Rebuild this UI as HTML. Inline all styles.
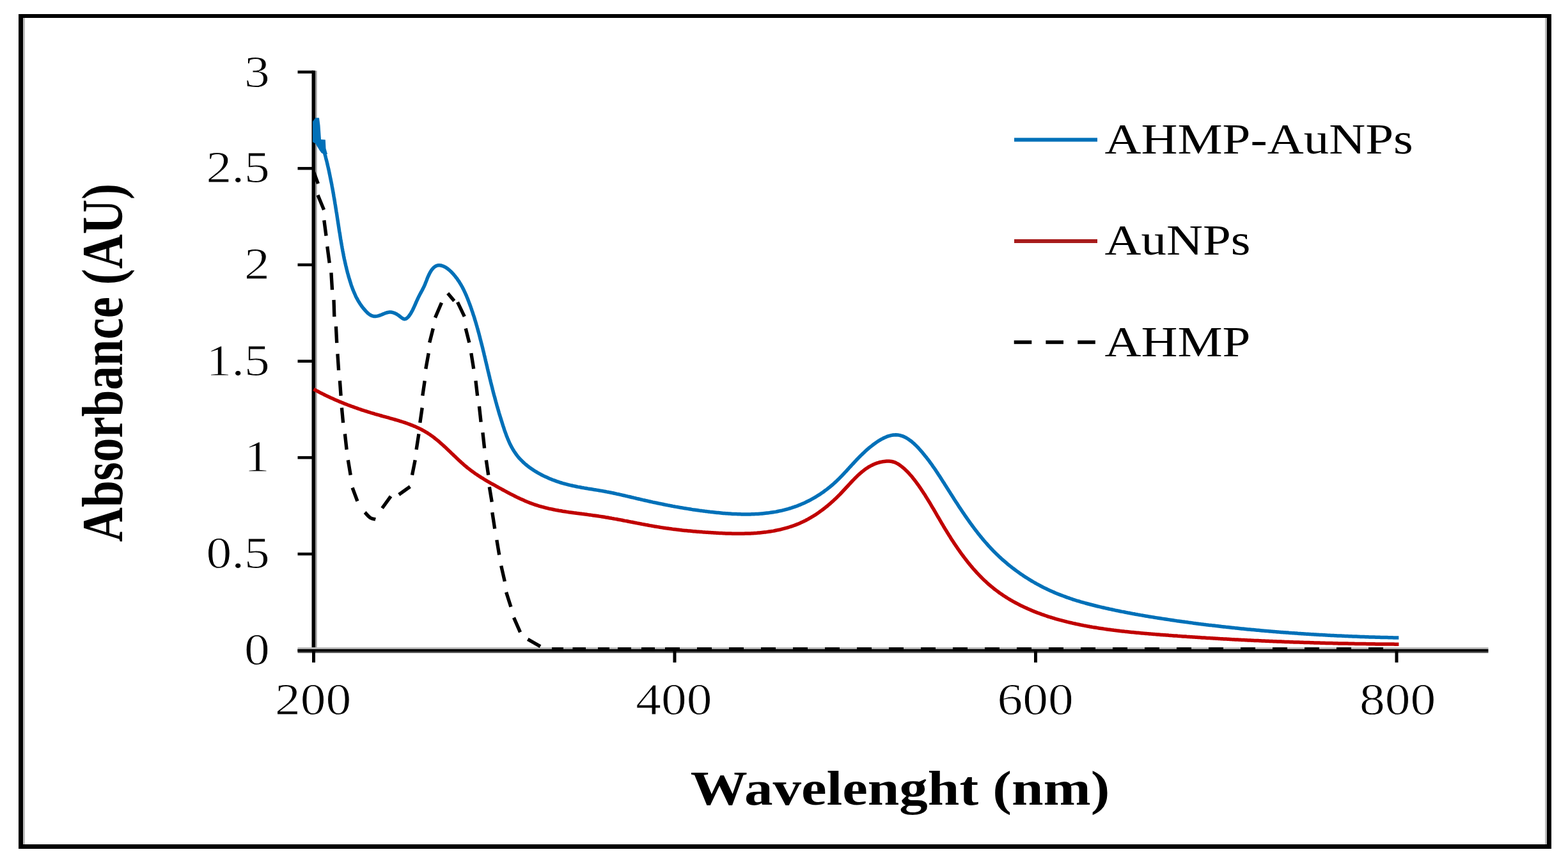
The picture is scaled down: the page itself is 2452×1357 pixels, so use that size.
<!DOCTYPE html>
<html><head><meta charset="utf-8"><title>Absorbance spectra</title>
<style>html,body{margin:0;padding:0;background:#fff;overflow:hidden;}svg{display:block;}</style>
</head><body>
<svg width="2452" height="1357" viewBox="0 0 2452 1357">
<rect x="0" y="0" width="2452" height="1357" fill="#fff"/>
<rect x="29" y="22" width="2397" height="1305" fill="#000"/>
<rect x="36" y="28" width="2383" height="1292" fill="#fff"/>
<rect x="36" y="28" width="3" height="1292" fill="#bdbdbd"/>
<rect x="2416" y="28" width="3" height="1292" fill="#bdbdbd"/>
<g shape-rendering="auto">
<rect x="493.00" y="110.60" width="2.6" height="908.20" fill="#9a9a9a"/>
<rect x="487.50" y="110.35" width="5.5" height="908.70" fill="#000"/>
<rect x="465.50" y="1014.55" width="24.75" height="4.5" fill="#000"/>
<rect x="465.50" y="863.85" width="24.75" height="4.5" fill="#000"/>
<rect x="465.50" y="713.15" width="24.75" height="4.5" fill="#000"/>
<rect x="465.50" y="562.45" width="24.75" height="4.5" fill="#000"/>
<rect x="465.50" y="411.75" width="24.75" height="4.5" fill="#000"/>
<rect x="465.50" y="261.05" width="24.75" height="4.5" fill="#000"/>
<rect x="465.50" y="110.35" width="24.75" height="4.5" fill="#000"/>
<rect x="465.50" y="1012.00" width="1861.90" height="3" fill="#bdbdbd"/>
<rect x="465.50" y="1018.50" width="1861.90" height="2.4" fill="#555"/>
<rect x="465.50" y="1014.80" width="1861.90" height="4" fill="#000"/>
<rect x="488.00" y="1016.80" width="5" height="18.90" fill="#000"/>
<rect x="1052.50" y="1016.80" width="5" height="18.90" fill="#000"/>
<rect x="1617.00" y="1016.80" width="5" height="18.90" fill="#000"/>
<rect x="2181.50" y="1016.80" width="5" height="18.90" fill="#000"/>
</g>
<path d="M490.5,608.3 L492.3,609.3 L494.1,610.3 L495.9,611.3 L497.7,612.2 L499.4,613.2 L501.2,614.1 L503.0,615.0 L504.8,615.9 L506.6,616.8 L508.4,617.7 L510.2,618.6 L512.0,619.4 L513.8,620.3 L515.7,621.1 L517.5,622.0 L519.3,622.8 L521.1,623.6 L522.9,624.4 L524.8,625.2 L526.6,626.0 L528.4,626.8 L530.2,627.6 L532.1,628.3 L533.9,629.1 L535.8,629.8 L537.6,630.6 L539.5,631.3 L541.3,632.0 L543.2,632.8 L545.0,633.5 L546.9,634.2 L548.8,634.9 L550.6,635.5 L552.5,636.2 L554.4,636.9 L556.2,637.5 L558.1,638.2 L560.0,638.9 L561.9,639.5 L563.8,640.1 L565.7,640.8 L567.5,641.4 L569.4,642.0 L571.3,642.6 L573.2,643.2 L575.2,643.8 L577.1,644.4 L579.0,645.0 L580.9,645.6 L582.8,646.1 L584.7,646.7 L586.7,647.3 L588.6,647.8 L590.5,648.4 L592.5,648.9 L594.4,649.5 L596.3,650.0 L598.3,650.6 L600.2,651.1 L602.2,651.6 L604.1,652.2 L606.0,652.7 L608.0,653.2 L609.9,653.8 L611.9,654.3 L613.8,654.9 L615.7,655.4 L617.7,656.0 L619.6,656.5 L621.5,657.1 L623.5,657.7 L625.4,658.3 L627.3,658.9 L629.2,659.5 L631.1,660.1 L633.0,660.7 L634.9,661.4 L636.8,662.0 L638.6,662.7 L640.5,663.4 L642.3,664.1 L644.2,664.8 L646.0,665.6 L647.9,666.3 L649.7,667.1 L651.5,667.9 L653.3,668.7 L655.0,669.5 L656.8,670.4 L658.6,671.3 L660.3,672.2 L662.0,673.1 L663.7,674.1 L665.4,675.1 L667.1,676.1 L668.8,677.1 L670.4,678.2 L672.1,679.3 L673.7,680.4 L675.3,681.6 L676.9,682.7 L678.5,683.9 L680.0,685.2 L681.6,686.4 L683.1,687.6 L684.7,688.9 L686.2,690.2 L687.7,691.5 L689.2,692.8 L690.8,694.2 L692.3,695.5 L693.7,696.9 L695.2,698.2 L696.7,699.6 L698.2,701.0 L699.7,702.4 L701.1,703.8 L702.6,705.2 L704.1,706.6 L705.5,708.0 L707.0,709.4 L708.5,710.8 L709.9,712.2 L711.4,713.6 L712.9,715.0 L714.4,716.4 L715.8,717.8 L717.3,719.2 L718.8,720.6 L720.3,721.9 L721.8,723.3 L723.3,724.6 L724.8,726.0 L726.3,727.3 L727.9,728.6 L729.4,729.9 L730.9,731.2 L732.5,732.4 L734.1,733.6 L735.7,734.9 L737.3,736.1 L738.9,737.2 L740.5,738.4 L742.1,739.6 L743.7,740.7 L745.4,741.8 L747.0,742.9 L748.7,744.0 L750.4,745.1 L752.0,746.1 L753.7,747.2 L755.4,748.2 L757.1,749.3 L758.8,750.3 L760.5,751.3 L762.2,752.3 L764.0,753.3 L765.7,754.3 L767.4,755.3 L769.2,756.3 L770.9,757.2 L772.6,758.2 L774.4,759.2 L776.1,760.2 L777.9,761.1 L779.6,762.1 L781.4,763.1 L783.2,764.0 L784.9,765.0 L786.7,766.0 L788.4,766.9 L790.2,767.9 L792.0,768.8 L793.8,769.8 L795.5,770.7 L797.3,771.7 L799.1,772.6 L800.9,773.5 L802.7,774.4 L804.4,775.3 L806.2,776.2 L808.0,777.1 L809.8,778.0 L811.6,778.8 L813.5,779.7 L815.3,780.5 L817.1,781.3 L818.9,782.1 L820.7,782.9 L822.6,783.7 L824.4,784.5 L826.2,785.2 L828.1,785.9 L829.9,786.7 L831.8,787.3 L833.7,788.0 L835.5,788.7 L837.4,789.3 L839.3,789.9 L841.2,790.5 L843.0,791.1 L844.9,791.6 L846.8,792.2 L848.7,792.7 L850.6,793.2 L852.5,793.7 L854.5,794.1 L856.4,794.6 L858.3,795.1 L860.2,795.5 L862.2,795.9 L864.1,796.3 L866.0,796.7 L868.0,797.1 L869.9,797.5 L871.9,797.8 L873.8,798.2 L875.8,798.5 L877.7,798.8 L879.7,799.2 L881.6,799.5 L883.6,799.8 L885.6,800.1 L887.5,800.4 L889.5,800.7 L891.5,800.9 L893.4,801.2 L895.4,801.5 L897.4,801.8 L899.4,802.0 L901.4,802.3 L903.3,802.6 L905.3,802.8 L907.3,803.1 L909.3,803.3 L911.3,803.6 L913.3,803.8 L915.3,804.1 L917.2,804.3 L919.2,804.6 L921.2,804.9 L923.2,805.1 L925.2,805.4 L927.2,805.7 L929.2,805.9 L931.2,806.2 L933.2,806.5 L935.1,806.8 L937.1,807.1 L939.1,807.4 L941.1,807.7 L943.1,808.0 L945.1,808.3 L947.1,808.7 L949.0,809.0 L951.0,809.3 L953.0,809.7 L955.0,810.0 L957.0,810.4 L958.9,810.7 L960.9,811.1 L962.9,811.4 L964.9,811.8 L966.9,812.2 L968.8,812.5 L970.8,812.9 L972.8,813.3 L974.8,813.7 L976.7,814.1 L978.7,814.4 L980.7,814.8 L982.6,815.2 L984.6,815.6 L986.6,816.0 L988.6,816.3 L990.5,816.7 L992.5,817.1 L994.5,817.5 L996.4,817.9 L998.4,818.2 L1000.4,818.6 L1002.3,819.0 L1004.3,819.4 L1006.3,819.7 L1008.2,820.1 L1010.2,820.5 L1012.2,820.8 L1014.1,821.2 L1016.1,821.6 L1018.0,821.9 L1020.0,822.3 L1022.0,822.6 L1023.9,823.0 L1025.9,823.3 L1027.8,823.6 L1029.8,823.9 L1031.8,824.3 L1033.7,824.6 L1035.7,824.9 L1037.6,825.2 L1039.6,825.5 L1041.6,825.8 L1043.5,826.0 L1045.5,826.3 L1047.4,826.6 L1049.4,826.8 L1051.3,827.1 L1053.3,827.4 L1055.2,827.6 L1057.2,827.8 L1059.2,828.1 L1061.1,828.3 L1063.1,828.5 L1065.0,828.7 L1067.0,829.0 L1069.0,829.2 L1070.9,829.4 L1072.9,829.6 L1074.9,829.8 L1076.8,830.0 L1078.8,830.1 L1080.8,830.3 L1082.8,830.5 L1084.7,830.7 L1086.7,830.8 L1088.7,831.0 L1090.7,831.2 L1092.6,831.3 L1094.6,831.5 L1096.6,831.6 L1098.6,831.8 L1100.6,831.9 L1102.6,832.1 L1104.6,832.2 L1106.6,832.3 L1108.6,832.5 L1110.6,832.6 L1112.6,832.7 L1114.6,832.8 L1116.6,833.0 L1118.7,833.1 L1120.7,833.2 L1122.7,833.3 L1124.7,833.4 L1126.8,833.5 L1128.8,833.6 L1130.8,833.7 L1132.9,833.8 L1134.9,833.9 L1136.9,833.9 L1139.0,834.0 L1141.0,834.1 L1143.0,834.1 L1145.1,834.2 L1147.1,834.2 L1149.1,834.2 L1151.2,834.2 L1153.2,834.3 L1155.2,834.3 L1157.3,834.3 L1159.3,834.2 L1161.4,834.2 L1163.4,834.2 L1165.4,834.1 L1167.4,834.1 L1169.5,834.0 L1171.5,834.0 L1173.5,833.9 L1175.5,833.8 L1177.6,833.7 L1179.6,833.5 L1181.6,833.4 L1183.6,833.3 L1185.6,833.1 L1187.6,832.9 L1189.6,832.7 L1191.6,832.5 L1193.6,832.3 L1195.6,832.1 L1197.6,831.9 L1199.6,831.6 L1201.5,831.3 L1203.5,831.0 L1205.5,830.7 L1207.4,830.4 L1209.4,830.1 L1211.4,829.7 L1213.3,829.3 L1215.2,828.9 L1217.2,828.5 L1219.1,828.1 L1221.0,827.7 L1222.9,827.2 L1224.9,826.7 L1226.8,826.2 L1228.7,825.7 L1230.5,825.2 L1232.4,824.6 L1234.3,824.0 L1236.2,823.4 L1238.0,822.8 L1239.9,822.2 L1241.7,821.5 L1243.6,820.8 L1245.4,820.1 L1247.2,819.4 L1249.0,818.7 L1250.8,817.9 L1252.6,817.1 L1254.4,816.3 L1256.2,815.4 L1257.9,814.6 L1259.7,813.7 L1261.4,812.8 L1263.2,811.9 L1264.9,810.9 L1266.6,809.9 L1268.3,808.9 L1270.0,807.9 L1271.7,806.9 L1273.4,805.8 L1275.1,804.8 L1276.7,803.7 L1278.4,802.6 L1280.0,801.4 L1281.6,800.3 L1283.3,799.1 L1284.9,797.9 L1286.5,796.7 L1288.1,795.5 L1289.7,794.3 L1291.2,793.0 L1292.8,791.8 L1294.4,790.5 L1295.9,789.2 L1297.5,787.9 L1299.0,786.5 L1300.5,785.2 L1302.0,783.8 L1303.5,782.5 L1305.0,781.1 L1306.5,779.7 L1308.0,778.3 L1309.4,776.8 L1310.9,775.4 L1312.3,773.9 L1313.8,772.5 L1315.2,771.0 L1316.6,769.5 L1318.0,768.0 L1319.4,766.5 L1320.8,765.0 L1322.2,763.5 L1323.6,762.0 L1325.0,760.5 L1326.4,759.0 L1327.8,757.5 L1329.1,756.0 L1330.5,754.5 L1331.9,753.0 L1333.3,751.5 L1334.7,750.1 L1336.1,748.6 L1337.5,747.2 L1339.0,745.8 L1340.4,744.4 L1341.8,743.0 L1343.3,741.7 L1344.8,740.4 L1346.2,739.1 L1347.7,737.8 L1349.3,736.6 L1350.8,735.4 L1352.3,734.2 L1353.9,733.1 L1355.5,732.0 L1357.1,730.9 L1358.7,729.9 L1360.4,729.0 L1362.1,728.0 L1363.8,727.2 L1365.5,726.3 L1367.3,725.6 L1369.1,724.8 L1370.9,724.2 L1372.7,723.6 L1374.6,723.0 L1376.5,722.5 L1378.5,722.1 L1380.5,721.7 L1382.5,721.4 L1384.5,721.2 L1386.5,721.0 L1388.6,721.0 L1390.6,721.1 L1392.6,721.2 L1394.6,721.5 L1396.5,722.0 L1398.4,722.5 L1400.3,723.2 L1402.0,724.1 L1403.8,725.0 L1405.5,726.1 L1407.1,727.2 L1408.7,728.4 L1410.3,729.6 L1411.8,730.9 L1413.4,732.2 L1414.9,733.5 L1416.3,734.9 L1417.8,736.3 L1419.2,737.7 L1420.6,739.2 L1422.0,740.7 L1423.3,742.2 L1424.6,743.7 L1426.0,745.2 L1427.2,746.8 L1428.5,748.4 L1429.8,750.0 L1431.0,751.6 L1432.2,753.2 L1433.4,754.8 L1434.6,756.5 L1435.8,758.1 L1437.0,759.7 L1438.1,761.4 L1439.3,763.1 L1440.4,764.7 L1441.5,766.4 L1442.6,768.1 L1443.7,769.7 L1444.8,771.4 L1445.9,773.1 L1447.0,774.8 L1448.0,776.5 L1449.1,778.2 L1450.1,779.9 L1451.2,781.6 L1452.2,783.3 L1453.3,785.0 L1454.3,786.7 L1455.3,788.4 L1456.3,790.1 L1457.3,791.8 L1458.3,793.5 L1459.4,795.2 L1460.4,797.0 L1461.4,798.7 L1462.4,800.4 L1463.4,802.1 L1464.4,803.8 L1465.4,805.6 L1466.4,807.3 L1467.4,809.0 L1468.4,810.7 L1469.4,812.4 L1470.4,814.2 L1471.4,815.9 L1472.4,817.6 L1473.4,819.3 L1474.5,821.0 L1475.5,822.8 L1476.5,824.5 L1477.5,826.2 L1478.6,827.9 L1479.6,829.6 L1480.7,831.3 L1481.7,833.0 L1482.8,834.7 L1483.8,836.4 L1484.9,838.1 L1486.0,839.8 L1487.0,841.5 L1488.1,843.2 L1489.2,844.9 L1490.3,846.5 L1491.4,848.2 L1492.5,849.9 L1493.6,851.5 L1494.7,853.2 L1495.9,854.9 L1497.0,856.5 L1498.1,858.2 L1499.3,859.8 L1500.4,861.4 L1501.6,863.1 L1502.7,864.7 L1503.9,866.3 L1505.1,867.9 L1506.3,869.5 L1507.5,871.1 L1508.7,872.7 L1509.9,874.3 L1511.1,875.8 L1512.4,877.4 L1513.6,879.0 L1514.8,880.5 L1516.1,882.1 L1517.4,883.6 L1518.6,885.1 L1519.9,886.6 L1521.2,888.2 L1522.5,889.7 L1523.8,891.1 L1525.2,892.6 L1526.5,894.1 L1527.8,895.6 L1529.2,897.0 L1530.5,898.4 L1531.9,899.9 L1533.3,901.3 L1534.7,902.7 L1536.1,904.1 L1537.5,905.5 L1539.0,906.9 L1540.4,908.2 L1541.9,909.6 L1543.3,910.9 L1544.8,912.3 L1546.3,913.6 L1547.8,914.9 L1549.3,916.2 L1550.8,917.4 L1552.4,918.7 L1553.9,920.0 L1555.5,921.2 L1557.1,922.4 L1558.7,923.6 L1560.3,924.8 L1561.9,926.0 L1563.5,927.2 L1565.2,928.3 L1566.9,929.5 L1568.5,930.6 L1570.2,931.7 L1571.9,932.8 L1573.6,933.9 L1575.3,935.0 L1577.0,936.0 L1578.8,937.1 L1580.5,938.1 L1582.3,939.1 L1584.0,940.1 L1585.8,941.1 L1587.5,942.0 L1589.3,943.0 L1591.1,943.9 L1592.9,944.9 L1594.6,945.8 L1596.4,946.7 L1598.2,947.5 L1600.0,948.4 L1601.8,949.3 L1603.6,950.1 L1605.5,950.9 L1607.3,951.7 L1609.1,952.5 L1610.9,953.3 L1612.8,954.1 L1614.6,954.9 L1616.4,955.6 L1618.3,956.4 L1620.1,957.1 L1622.0,957.8 L1623.8,958.5 L1625.7,959.2 L1627.6,959.9 L1629.4,960.6 L1631.3,961.2 L1633.2,961.9 L1635.1,962.5 L1636.9,963.1 L1638.8,963.8 L1640.7,964.4 L1642.6,965.0 L1644.5,965.5 L1646.4,966.1 L1648.3,966.7 L1650.2,967.3 L1652.1,967.8 L1654.0,968.3 L1655.9,968.9 L1657.8,969.4 L1659.8,969.9 L1661.7,970.4 L1663.6,970.9 L1665.5,971.4 L1667.4,971.9 L1669.4,972.4 L1671.3,972.8 L1673.2,973.3 L1675.2,973.7 L1677.1,974.2 L1679.0,974.6 L1681.0,975.0 L1682.9,975.5 L1684.9,975.9 L1686.8,976.3 L1688.8,976.7 L1690.7,977.1 L1692.7,977.5 L1694.6,977.9 L1696.6,978.2 L1698.5,978.6 L1700.5,979.0 L1702.4,979.3 L1704.4,979.7 L1706.4,980.0 L1708.3,980.4 L1710.3,980.7 L1712.3,981.0 L1714.2,981.3 L1716.2,981.6 L1718.2,982.0 L1720.1,982.3 L1722.1,982.6 L1724.1,982.8 L1726.1,983.1 L1728.0,983.4 L1730.0,983.7 L1732.0,984.0 L1734.0,984.2 L1736.0,984.5 L1738.0,984.8 L1739.9,985.0 L1741.9,985.3 L1743.9,985.5 L1745.9,985.8 L1747.9,986.0 L1749.9,986.2 L1751.9,986.5 L1753.9,986.7 L1755.8,986.9 L1757.8,987.1 L1759.8,987.4 L1761.8,987.6 L1763.8,987.8 L1765.8,988.0 L1767.8,988.2 L1769.8,988.4 L1771.8,988.6 L1773.8,988.8 L1775.8,989.0 L1777.8,989.2 L1779.8,989.3 L1781.8,989.5 L1783.8,989.7 L1785.8,989.9 L1787.8,990.1 L1789.8,990.2 L1791.8,990.4 L1793.8,990.6 L1795.8,990.7 L1797.8,990.9 L1799.8,991.1 L1801.8,991.2 L1803.8,991.4 L1805.8,991.6 L1807.8,991.7 L1809.8,991.9 L1811.8,992.0 L1813.8,992.2 L1815.8,992.4 L1817.8,992.5 L1819.8,992.7 L1821.8,992.8 L1823.8,993.0 L1825.8,993.1 L1827.8,993.3 L1829.8,993.4 L1831.8,993.6 L1833.8,993.7 L1835.8,993.9 L1837.8,994.0 L1839.8,994.1 L1841.8,994.3 L1843.8,994.4 L1845.8,994.6 L1847.8,994.7 L1849.8,994.9 L1851.8,995.0 L1853.8,995.1 L1855.8,995.3 L1857.7,995.4 L1859.7,995.5 L1861.7,995.7 L1863.7,995.8 L1865.7,996.0 L1867.7,996.1 L1869.7,996.2 L1871.7,996.3 L1873.7,996.5 L1875.7,996.6 L1877.7,996.7 L1879.7,996.9 L1881.7,997.0 L1883.7,997.1 L1885.7,997.2 L1887.7,997.4 L1889.7,997.5 L1891.7,997.6 L1893.7,997.7 L1895.7,997.8 L1897.7,998.0 L1899.7,998.1 L1901.7,998.2 L1903.7,998.3 L1905.7,998.4 L1907.6,998.6 L1909.6,998.7 L1911.6,998.8 L1913.6,998.9 L1915.6,999.0 L1917.6,999.1 L1919.6,999.2 L1921.6,999.3 L1923.6,999.4 L1925.6,999.6 L1927.6,999.7 L1929.6,999.8 L1931.6,999.9 L1933.6,1000.0 L1935.6,1000.1 L1937.6,1000.2 L1939.6,1000.3 L1941.6,1000.4 L1943.6,1000.5 L1945.5,1000.6 L1947.5,1000.7 L1949.5,1000.8 L1951.5,1000.9 L1953.5,1001.0 L1955.5,1001.1 L1957.5,1001.2 L1959.5,1001.3 L1961.5,1001.4 L1963.5,1001.5 L1965.5,1001.5 L1967.5,1001.6 L1969.5,1001.7 L1971.5,1001.8 L1973.5,1001.9 L1975.5,1002.0 L1977.5,1002.1 L1979.5,1002.2 L1981.4,1002.2 L1983.4,1002.3 L1985.4,1002.4 L1987.4,1002.5 L1989.4,1002.6 L1991.4,1002.7 L1993.4,1002.7 L1995.4,1002.8 L1997.4,1002.9 L1999.4,1003.0 L2001.4,1003.1 L2003.4,1003.1 L2005.4,1003.2 L2007.4,1003.3 L2009.4,1003.4 L2011.4,1003.4 L2013.4,1003.5 L2015.4,1003.6 L2017.4,1003.7 L2019.4,1003.7 L2021.3,1003.8 L2023.3,1003.9 L2025.3,1003.9 L2027.3,1004.0 L2029.3,1004.1 L2031.3,1004.1 L2033.3,1004.2 L2035.3,1004.3 L2037.3,1004.3 L2039.3,1004.4 L2041.3,1004.5 L2043.3,1004.5 L2045.3,1004.6 L2047.3,1004.6 L2049.3,1004.7 L2051.3,1004.8 L2053.3,1004.8 L2055.3,1004.9 L2057.3,1004.9 L2059.3,1005.0 L2061.3,1005.1 L2063.3,1005.1 L2065.3,1005.2 L2067.3,1005.2 L2069.3,1005.3 L2071.3,1005.3 L2073.3,1005.4 L2075.3,1005.4 L2077.3,1005.5 L2079.3,1005.5 L2081.2,1005.6 L2083.2,1005.6 L2085.2,1005.7 L2087.2,1005.7 L2089.2,1005.8 L2091.2,1005.8 L2093.2,1005.9 L2095.2,1005.9 L2097.2,1005.9 L2099.2,1006.0 L2101.2,1006.0 L2103.2,1006.1 L2105.2,1006.1 L2107.2,1006.1 L2109.2,1006.2 L2111.2,1006.2 L2113.2,1006.3 L2115.2,1006.3 L2117.2,1006.3 L2119.2,1006.4 L2121.2,1006.4 L2123.2,1006.4 L2125.2,1006.5 L2127.2,1006.5 L2129.3,1006.5 L2131.3,1006.6 L2133.3,1006.6 L2135.3,1006.6 L2137.3,1006.7 L2139.3,1006.7 L2141.3,1006.7 L2143.3,1006.8 L2145.3,1006.8 L2147.3,1006.8 L2149.3,1006.8 L2151.3,1006.9 L2153.3,1006.9 L2155.3,1006.9 L2157.3,1006.9 L2159.3,1007.0 L2161.3,1007.0 L2163.3,1007.0 L2165.3,1007.0 L2167.3,1007.0 L2169.3,1007.1 L2171.3,1007.1 L2173.3,1007.1 L2175.3,1007.1 L2177.4,1007.1 L2179.4,1007.1 L2181.4,1007.2 L2183.4,1007.2 L2185.4,1007.2 L2187.4,1007.2" fill="none" stroke="#c00000" stroke-width="5.5" stroke-linejoin="round" stroke-linecap="butt"/>
<path d="M505.8,232.9 L506.4,234.8 L506.9,236.7 L507.4,238.7 L507.9,240.6 L508.4,242.5 L509.0,244.4 L509.4,246.3 L509.9,248.3 L510.4,250.2 L510.9,252.1 L511.4,254.1 L511.8,256.0 L512.3,258.0 L512.7,259.9 L513.2,261.8 L513.6,263.8 L514.1,265.7 L514.5,267.7 L514.9,269.6 L515.3,271.6 L515.7,273.5 L516.1,275.5 L516.5,277.5 L516.9,279.4 L517.3,281.4 L517.7,283.4 L518.1,285.3 L518.5,287.3 L518.9,289.2 L519.2,291.2 L519.6,293.2 L520.0,295.2 L520.3,297.1 L520.7,299.1 L521.0,301.1 L521.4,303.0 L521.7,305.0 L522.0,307.0 L522.4,309.0 L522.7,310.9 L523.1,312.9 L523.4,314.9 L523.7,316.9 L524.0,318.8 L524.4,320.8 L524.7,322.8 L525.0,324.8 L525.3,326.7 L525.6,328.7 L525.9,330.7 L526.3,332.7 L526.6,334.7 L526.9,336.6 L527.2,338.6 L527.5,340.6 L527.8,342.6 L528.1,344.5 L528.4,346.5 L528.7,348.5 L529.0,350.4 L529.3,352.4 L529.6,354.4 L529.9,356.3 L530.2,358.3 L530.5,360.3 L530.8,362.2 L531.2,364.2 L531.5,366.2 L531.8,368.1 L532.1,370.1 L532.4,372.1 L532.7,374.0 L533.1,376.0 L533.4,378.0 L533.7,379.9 L534.1,381.9 L534.4,383.8 L534.8,385.8 L535.1,387.7 L535.5,389.7 L535.8,391.7 L536.2,393.6 L536.6,395.6 L537.0,397.5 L537.3,399.5 L537.7,401.4 L538.1,403.4 L538.5,405.3 L539.0,407.3 L539.4,409.2 L539.8,411.2 L540.3,413.1 L540.7,415.1 L541.2,417.0 L541.7,419.0 L542.1,420.9 L542.6,422.8 L543.1,424.8 L543.6,426.7 L544.2,428.7 L544.7,430.6 L545.2,432.6 L545.8,434.5 L546.4,436.4 L547.0,438.4 L547.6,440.3 L548.2,442.2 L548.8,444.2 L549.4,446.1 L550.1,448.0 L550.8,449.9 L551.5,451.8 L552.2,453.7 L553.0,455.5 L553.8,457.4 L554.6,459.2 L555.4,461.0 L556.2,462.9 L557.1,464.7 L558.0,466.4 L559.0,468.2 L559.9,469.9 L560.9,471.6 L562.0,473.3 L563.1,475.0 L564.2,476.6 L565.3,478.3 L566.5,479.8 L567.7,481.4 L569.0,482.9 L570.3,484.4 L571.6,485.9 L573.0,487.4 L574.4,488.8 L575.9,490.1 L577.4,491.3 L579.0,492.4 L580.7,493.3 L582.4,493.9 L584.2,494.4 L586.1,494.5 L588.1,494.4 L590.1,494.1 L592.1,493.6 L594.1,493.0 L596.1,492.2 L598.1,491.4 L600.2,490.5 L602.2,489.7 L604.2,489.0 L606.2,488.5 L608.2,488.1 L610.1,488.0 L612.1,488.1 L614.0,488.5 L615.9,489.1 L617.7,489.8 L619.5,490.7 L621.2,491.7 L622.9,492.8 L624.5,494.0 L626.0,495.2 L627.5,496.3 L628.9,497.4 L630.2,498.2 L631.5,498.7 L632.8,498.9 L634.2,498.6 L635.4,498.0 L636.7,497.0 L638.0,495.9 L639.2,494.5 L640.3,493.0 L641.4,491.4 L642.5,489.7 L643.5,487.9 L644.5,486.1 L645.5,484.2 L646.4,482.3 L647.3,480.4 L648.2,478.4 L649.1,476.5 L649.9,474.5 L650.8,472.5 L651.6,470.6 L652.5,468.7 L653.4,466.8 L654.2,465.0 L655.1,463.2 L656.0,461.5 L656.9,459.8 L657.8,458.1 L658.7,456.4 L659.6,454.8 L660.5,453.1 L661.4,451.4 L662.2,449.7 L663.1,447.9 L663.9,446.1 L664.7,444.3 L665.4,442.4 L666.2,440.5 L667.0,438.5 L667.7,436.6 L668.5,434.6 L669.3,432.6 L670.2,430.7 L671.1,428.8 L672.0,427.0 L673.0,425.2 L674.1,423.4 L675.2,421.8 L676.5,420.2 L677.8,418.8 L679.2,417.5 L680.7,416.5 L682.3,415.6 L684.0,415.0 L685.7,414.8 L687.5,414.8 L689.4,415.0 L691.2,415.5 L693.0,416.1 L694.8,416.9 L696.5,417.8 L698.2,418.9 L699.9,420.0 L701.5,421.3 L703.1,422.6 L704.6,424.1 L706.1,425.5 L707.6,427.1 L709.0,428.6 L710.3,430.2 L711.7,431.8 L712.9,433.4 L714.2,435.0 L715.4,436.7 L716.5,438.4 L717.7,440.0 L718.7,441.7 L719.8,443.4 L720.8,445.1 L721.8,446.9 L722.8,448.6 L723.7,450.4 L724.6,452.1 L725.5,453.9 L726.3,455.7 L727.2,457.5 L728.0,459.3 L728.8,461.1 L729.6,462.9 L730.3,464.7 L731.1,466.6 L731.8,468.4 L732.5,470.2 L733.2,472.1 L733.9,473.9 L734.6,475.8 L735.3,477.7 L736.0,479.5 L736.6,481.4 L737.3,483.3 L737.9,485.2 L738.6,487.1 L739.2,488.9 L739.8,490.8 L740.4,492.7 L741.1,494.6 L741.7,496.5 L742.2,498.4 L742.8,500.3 L743.4,502.2 L744.0,504.2 L744.6,506.1 L745.1,508.0 L745.7,509.9 L746.2,511.8 L746.8,513.8 L747.3,515.7 L747.8,517.6 L748.4,519.6 L748.9,521.5 L749.4,523.4 L749.9,525.4 L750.4,527.3 L750.9,529.3 L751.4,531.2 L751.9,533.1 L752.4,535.1 L752.9,537.0 L753.4,539.0 L753.9,540.9 L754.4,542.9 L754.9,544.8 L755.3,546.8 L755.8,548.7 L756.3,550.7 L756.8,552.6 L757.2,554.6 L757.7,556.5 L758.2,558.5 L758.6,560.4 L759.1,562.4 L759.5,564.4 L760.0,566.3 L760.5,568.3 L760.9,570.2 L761.4,572.2 L761.9,574.1 L762.3,576.1 L762.8,578.0 L763.2,579.9 L763.7,581.9 L764.2,583.8 L764.6,585.8 L765.1,587.7 L765.6,589.6 L766.0,591.6 L766.5,593.5 L767.0,595.5 L767.4,597.4 L767.9,599.3 L768.4,601.2 L768.9,603.2 L769.4,605.1 L769.9,607.0 L770.3,608.9 L770.8,610.8 L771.3,612.8 L771.8,614.7 L772.3,616.6 L772.8,618.5 L773.4,620.4 L773.9,622.3 L774.4,624.2 L774.9,626.1 L775.4,628.0 L776.0,630.0 L776.5,631.9 L777.0,633.8 L777.6,635.7 L778.1,637.6 L778.7,639.5 L779.2,641.4 L779.8,643.3 L780.3,645.2 L780.9,647.2 L781.5,649.1 L782.1,651.0 L782.7,652.9 L783.3,654.8 L783.8,656.7 L784.5,658.7 L785.1,660.6 L785.7,662.5 L786.3,664.5 L786.9,666.4 L787.6,668.3 L788.2,670.3 L788.8,672.2 L789.5,674.1 L790.2,676.0 L790.9,677.9 L791.6,679.9 L792.3,681.8 L793.1,683.6 L793.8,685.5 L794.6,687.4 L795.4,689.3 L796.2,691.1 L797.0,692.9 L797.9,694.7 L798.8,696.5 L799.7,698.3 L800.7,700.0 L801.7,701.8 L802.7,703.5 L803.7,705.2 L804.8,706.8 L805.9,708.4 L807.0,710.0 L808.2,711.6 L809.4,713.2 L810.7,714.7 L811.9,716.2 L813.3,717.6 L814.6,719.0 L816.0,720.4 L817.4,721.8 L818.8,723.2 L820.3,724.5 L821.8,725.8 L823.3,727.0 L824.9,728.3 L826.4,729.5 L828.0,730.7 L829.6,731.9 L831.3,733.0 L832.9,734.1 L834.6,735.2 L836.3,736.3 L838.0,737.3 L839.7,738.4 L841.4,739.4 L843.2,740.4 L845.0,741.3 L846.7,742.3 L848.5,743.2 L850.3,744.1 L852.2,745.0 L854.0,745.8 L855.8,746.6 L857.7,747.5 L859.5,748.3 L861.4,749.0 L863.2,749.8 L865.1,750.5 L867.0,751.2 L868.9,751.9 L870.8,752.6 L872.7,753.2 L874.6,753.8 L876.5,754.5 L878.4,755.0 L880.3,755.6 L882.3,756.1 L884.2,756.7 L886.1,757.2 L888.1,757.7 L890.0,758.1 L891.9,758.6 L893.9,759.0 L895.8,759.5 L897.7,759.9 L899.7,760.3 L901.6,760.7 L903.6,761.1 L905.5,761.4 L907.5,761.8 L909.4,762.2 L911.4,762.5 L913.4,762.9 L915.3,763.2 L917.3,763.5 L919.2,763.9 L921.2,764.2 L923.2,764.5 L925.1,764.8 L927.1,765.1 L929.0,765.5 L931.0,765.8 L933.0,766.1 L934.9,766.4 L936.9,766.8 L938.9,767.1 L940.8,767.4 L942.8,767.8 L944.8,768.1 L946.7,768.5 L948.7,768.9 L950.7,769.2 L952.6,769.6 L954.6,770.0 L956.5,770.4 L958.5,770.8 L960.5,771.2 L962.4,771.6 L964.4,772.1 L966.3,772.5 L968.3,772.9 L970.2,773.4 L972.2,773.8 L974.1,774.3 L976.1,774.7 L978.1,775.2 L980.0,775.6 L982.0,776.1 L983.9,776.5 L985.9,777.0 L987.8,777.5 L989.8,777.9 L991.7,778.4 L993.7,778.8 L995.6,779.3 L997.6,779.8 L999.5,780.2 L1001.5,780.7 L1003.4,781.1 L1005.4,781.6 L1007.3,782.0 L1009.3,782.5 L1011.2,782.9 L1013.2,783.3 L1015.1,783.8 L1017.0,784.2 L1019.0,784.6 L1020.9,785.1 L1022.9,785.5 L1024.8,785.9 L1026.8,786.3 L1028.7,786.7 L1030.7,787.1 L1032.6,787.5 L1034.6,787.9 L1036.5,788.3 L1038.5,788.7 L1040.4,789.1 L1042.4,789.5 L1044.3,789.9 L1046.3,790.2 L1048.2,790.6 L1050.2,791.0 L1052.1,791.4 L1054.1,791.7 L1056.1,792.1 L1058.0,792.4 L1060.0,792.8 L1061.9,793.1 L1063.9,793.5 L1065.8,793.8 L1067.8,794.1 L1069.8,794.5 L1071.7,794.8 L1073.7,795.1 L1075.7,795.4 L1077.6,795.7 L1079.6,796.0 L1081.6,796.4 L1083.5,796.7 L1085.5,796.9 L1087.5,797.2 L1089.5,797.5 L1091.4,797.8 L1093.4,798.1 L1095.4,798.4 L1097.4,798.6 L1099.4,798.9 L1101.3,799.1 L1103.3,799.4 L1105.3,799.6 L1107.3,799.9 L1109.3,800.1 L1111.3,800.4 L1113.3,800.6 L1115.3,800.8 L1117.3,801.0 L1119.3,801.2 L1121.3,801.4 L1123.3,801.6 L1125.3,801.8 L1127.3,802.0 L1129.3,802.2 L1131.3,802.4 L1133.3,802.5 L1135.3,802.7 L1137.3,802.8 L1139.4,803.0 L1141.4,803.1 L1143.4,803.2 L1145.4,803.4 L1147.4,803.5 L1149.4,803.6 L1151.4,803.6 L1153.4,803.7 L1155.4,803.8 L1157.5,803.8 L1159.5,803.9 L1161.5,803.9 L1163.5,803.9 L1165.5,803.9 L1167.5,803.9 L1169.5,803.9 L1171.5,803.9 L1173.5,803.9 L1175.5,803.8 L1177.5,803.7 L1179.5,803.7 L1181.5,803.6 L1183.5,803.5 L1185.5,803.4 L1187.5,803.2 L1189.5,803.1 L1191.5,802.9 L1193.4,802.7 L1195.4,802.5 L1197.4,802.3 L1199.4,802.1 L1201.3,801.9 L1203.3,801.6 L1205.3,801.3 L1207.2,801.0 L1209.2,800.7 L1211.2,800.4 L1213.1,800.1 L1215.1,799.7 L1217.0,799.3 L1218.9,798.9 L1220.9,798.5 L1222.8,798.1 L1224.7,797.6 L1226.7,797.1 L1228.6,796.6 L1230.5,796.1 L1232.4,795.6 L1234.3,795.0 L1236.2,794.5 L1238.1,793.9 L1240.0,793.2 L1241.9,792.6 L1243.8,791.9 L1245.7,791.3 L1247.5,790.6 L1249.4,789.8 L1251.2,789.1 L1253.1,788.3 L1254.9,787.5 L1256.8,786.7 L1258.6,785.9 L1260.4,785.0 L1262.3,784.1 L1264.1,783.2 L1265.9,782.3 L1267.7,781.3 L1269.4,780.4 L1271.2,779.4 L1273.0,778.4 L1274.7,777.4 L1276.5,776.3 L1278.2,775.2 L1279.9,774.2 L1281.6,773.1 L1283.3,772.0 L1285.0,770.8 L1286.7,769.7 L1288.3,768.5 L1289.9,767.3 L1291.6,766.1 L1293.2,764.9 L1294.7,763.7 L1296.3,762.4 L1297.9,761.2 L1299.4,759.9 L1300.9,758.6 L1302.4,757.3 L1303.9,756.0 L1305.4,754.7 L1306.8,753.3 L1308.3,752.0 L1309.7,750.6 L1311.1,749.3 L1312.5,747.9 L1313.8,746.5 L1315.2,745.1 L1316.6,743.7 L1317.9,742.3 L1319.3,740.9 L1320.6,739.4 L1321.9,738.0 L1323.3,736.6 L1324.6,735.1 L1325.9,733.7 L1327.2,732.3 L1328.5,730.8 L1329.9,729.4 L1331.2,727.9 L1332.5,726.5 L1333.9,725.0 L1335.2,723.6 L1336.5,722.1 L1337.9,720.7 L1339.2,719.2 L1340.6,717.8 L1342.0,716.4 L1343.4,714.9 L1344.8,713.5 L1346.2,712.1 L1347.7,710.7 L1349.1,709.3 L1350.6,707.9 L1352.1,706.5 L1353.6,705.1 L1355.1,703.7 L1356.6,702.4 L1358.2,701.0 L1359.8,699.7 L1361.4,698.4 L1363.1,697.1 L1364.7,695.8 L1366.4,694.5 L1368.2,693.2 L1369.9,692.0 L1371.7,690.8 L1373.4,689.6 L1375.2,688.5 L1377.1,687.4 L1378.9,686.4 L1380.7,685.5 L1382.5,684.5 L1384.4,683.7 L1386.2,682.9 L1388.1,682.2 L1389.9,681.6 L1391.8,681.1 L1393.6,680.6 L1395.5,680.3 L1397.3,680.0 L1399.1,679.9 L1401.0,679.8 L1402.8,679.9 L1404.6,680.1 L1406.3,680.4 L1408.1,680.8 L1409.8,681.3 L1411.6,681.9 L1413.3,682.6 L1415.0,683.4 L1416.7,684.3 L1418.3,685.2 L1420.0,686.3 L1421.6,687.4 L1423.2,688.5 L1424.8,689.7 L1426.4,691.0 L1427.9,692.4 L1429.5,693.7 L1431.0,695.2 L1432.5,696.6 L1434.0,698.1 L1435.5,699.7 L1436.9,701.2 L1438.3,702.8 L1439.7,704.4 L1441.1,705.9 L1442.5,707.6 L1443.8,709.2 L1445.1,710.8 L1446.4,712.4 L1447.7,714.0 L1449.0,715.6 L1450.2,717.2 L1451.5,718.8 L1452.7,720.4 L1453.9,722.0 L1455.0,723.6 L1456.2,725.2 L1457.4,726.8 L1458.5,728.5 L1459.6,730.1 L1460.8,731.7 L1461.9,733.3 L1463.0,734.9 L1464.1,736.6 L1465.2,738.2 L1466.2,739.8 L1467.3,741.5 L1468.4,743.1 L1469.5,744.7 L1470.5,746.4 L1471.6,748.0 L1472.6,749.7 L1473.7,751.3 L1474.7,753.0 L1475.8,754.6 L1476.9,756.3 L1477.9,758.0 L1479.0,759.6 L1480.0,761.3 L1481.1,763.0 L1482.2,764.7 L1483.2,766.4 L1484.3,768.0 L1485.4,769.7 L1486.4,771.4 L1487.5,773.1 L1488.6,774.8 L1489.7,776.5 L1490.8,778.2 L1491.8,779.9 L1492.9,781.6 L1494.0,783.2 L1495.1,784.9 L1496.2,786.6 L1497.3,788.3 L1498.4,790.0 L1499.5,791.7 L1500.6,793.4 L1501.8,795.1 L1502.9,796.7 L1504.0,798.4 L1505.1,800.1 L1506.3,801.8 L1507.4,803.4 L1508.5,805.1 L1509.7,806.8 L1510.8,808.4 L1512.0,810.1 L1513.1,811.7 L1514.3,813.4 L1515.4,815.0 L1516.6,816.6 L1517.8,818.3 L1519.0,819.9 L1520.1,821.5 L1521.3,823.1 L1522.5,824.7 L1523.7,826.3 L1524.9,827.9 L1526.1,829.5 L1527.4,831.1 L1528.6,832.7 L1529.8,834.2 L1531.0,835.8 L1532.3,837.3 L1533.5,838.9 L1534.8,840.4 L1536.0,841.9 L1537.3,843.4 L1538.6,845.0 L1539.9,846.5 L1541.2,848.0 L1542.5,849.4 L1543.8,850.9 L1545.1,852.4 L1546.4,853.9 L1547.8,855.3 L1549.1,856.8 L1550.5,858.2 L1551.9,859.6 L1553.2,861.1 L1554.6,862.5 L1556.0,863.9 L1557.4,865.3 L1558.9,866.7 L1560.3,868.0 L1561.7,869.4 L1563.2,870.8 L1564.7,872.1 L1566.1,873.5 L1567.6,874.8 L1569.1,876.1 L1570.6,877.4 L1572.1,878.7 L1573.7,880.0 L1575.2,881.3 L1576.7,882.6 L1578.3,883.9 L1579.8,885.1 L1581.4,886.3 L1583.0,887.6 L1584.6,888.8 L1586.2,890.0 L1587.8,891.2 L1589.4,892.4 L1591.0,893.6 L1592.7,894.8 L1594.3,895.9 L1595.9,897.1 L1597.6,898.2 L1599.3,899.3 L1600.9,900.5 L1602.6,901.6 L1604.3,902.7 L1606.0,903.7 L1607.7,904.8 L1609.4,905.9 L1611.1,906.9 L1612.8,908.0 L1614.6,909.0 L1616.3,910.0 L1618.0,911.0 L1619.8,912.0 L1621.5,913.0 L1623.3,913.9 L1625.1,914.9 L1626.8,915.8 L1628.6,916.8 L1630.4,917.7 L1632.2,918.6 L1634.0,919.5 L1635.8,920.3 L1637.6,921.2 L1639.4,922.1 L1641.2,922.9 L1643.0,923.7 L1644.8,924.5 L1646.6,925.3 L1648.5,926.1 L1650.3,926.9 L1652.2,927.7 L1654.0,928.4 L1655.8,929.2 L1657.7,929.9 L1659.6,930.6 L1661.4,931.3 L1663.3,932.0 L1665.2,932.7 L1667.0,933.4 L1668.9,934.1 L1670.8,934.7 L1672.7,935.4 L1674.6,936.0 L1676.4,936.6 L1678.3,937.3 L1680.2,937.9 L1682.1,938.5 L1684.0,939.1 L1685.9,939.6 L1687.9,940.2 L1689.8,940.8 L1691.7,941.3 L1693.6,941.9 L1695.5,942.4 L1697.4,943.0 L1699.4,943.5 L1701.3,944.0 L1703.2,944.5 L1705.1,945.0 L1707.1,945.5 L1709.0,946.0 L1711.0,946.5 L1712.9,947.0 L1714.8,947.5 L1716.8,948.0 L1718.7,948.4 L1720.7,948.9 L1722.6,949.3 L1724.6,949.8 L1726.5,950.2 L1728.5,950.7 L1730.4,951.1 L1732.4,951.5 L1734.3,952.0 L1736.3,952.4 L1738.2,952.8 L1740.2,953.2 L1742.1,953.6 L1744.1,954.1 L1746.1,954.5 L1748.0,954.9 L1750.0,955.3 L1751.9,955.7 L1753.9,956.1 L1755.9,956.4 L1757.8,956.8 L1759.8,957.2 L1761.7,957.6 L1763.7,958.0 L1765.7,958.3 L1767.6,958.7 L1769.6,959.1 L1771.6,959.5 L1773.5,959.8 L1775.5,960.2 L1777.5,960.5 L1779.4,960.9 L1781.4,961.2 L1783.4,961.6 L1785.3,961.9 L1787.3,962.3 L1789.3,962.6 L1791.3,963.0 L1793.2,963.3 L1795.2,963.6 L1797.2,964.0 L1799.1,964.3 L1801.1,964.6 L1803.1,964.9 L1805.1,965.3 L1807.0,965.6 L1809.0,965.9 L1811.0,966.2 L1813.0,966.5 L1814.9,966.8 L1816.9,967.1 L1818.9,967.4 L1820.9,967.7 L1822.8,968.0 L1824.8,968.3 L1826.8,968.6 L1828.8,968.9 L1830.8,969.2 L1832.7,969.5 L1834.7,969.8 L1836.7,970.1 L1838.7,970.4 L1840.7,970.7 L1842.6,970.9 L1844.6,971.2 L1846.6,971.5 L1848.6,971.8 L1850.6,972.0 L1852.5,972.3 L1854.5,972.6 L1856.5,972.8 L1858.5,973.1 L1860.5,973.4 L1862.4,973.6 L1864.4,973.9 L1866.4,974.2 L1868.4,974.4 L1870.4,974.7 L1872.4,974.9 L1874.3,975.2 L1876.3,975.4 L1878.3,975.7 L1880.3,975.9 L1882.3,976.2 L1884.3,976.4 L1886.2,976.7 L1888.2,976.9 L1890.2,977.2 L1892.2,977.4 L1894.2,977.6 L1896.2,977.9 L1898.2,978.1 L1900.1,978.3 L1902.1,978.6 L1904.1,978.8 L1906.1,979.0 L1908.1,979.2 L1910.1,979.5 L1912.1,979.7 L1914.0,979.9 L1916.0,980.1 L1918.0,980.4 L1920.0,980.6 L1922.0,980.8 L1924.0,981.0 L1926.0,981.2 L1928.0,981.4 L1929.9,981.6 L1931.9,981.9 L1933.9,982.1 L1935.9,982.3 L1937.9,982.5 L1939.9,982.7 L1941.9,982.9 L1943.9,983.1 L1945.9,983.3 L1947.8,983.5 L1949.8,983.7 L1951.8,983.9 L1953.8,984.0 L1955.8,984.2 L1957.8,984.4 L1959.8,984.6 L1961.8,984.8 L1963.8,985.0 L1965.8,985.2 L1967.7,985.3 L1969.7,985.5 L1971.7,985.7 L1973.7,985.9 L1975.7,986.1 L1977.7,986.2 L1979.7,986.4 L1981.7,986.6 L1983.7,986.7 L1985.7,986.9 L1987.7,987.1 L1989.7,987.2 L1991.6,987.4 L1993.6,987.6 L1995.6,987.7 L1997.6,987.9 L1999.6,988.1 L2001.6,988.2 L2003.6,988.4 L2005.6,988.5 L2007.6,988.7 L2009.6,988.8 L2011.6,989.0 L2013.6,989.1 L2015.6,989.3 L2017.6,989.4 L2019.6,989.6 L2021.5,989.7 L2023.5,989.8 L2025.5,990.0 L2027.5,990.1 L2029.5,990.3 L2031.5,990.4 L2033.5,990.5 L2035.5,990.7 L2037.5,990.8 L2039.5,990.9 L2041.5,991.1 L2043.5,991.2 L2045.5,991.3 L2047.5,991.4 L2049.5,991.6 L2051.5,991.7 L2053.5,991.8 L2055.5,991.9 L2057.5,992.0 L2059.5,992.2 L2061.4,992.3 L2063.4,992.4 L2065.4,992.5 L2067.4,992.6 L2069.4,992.7 L2071.4,992.8 L2073.4,992.9 L2075.4,993.1 L2077.4,993.2 L2079.4,993.3 L2081.4,993.4 L2083.4,993.5 L2085.4,993.6 L2087.4,993.7 L2089.4,993.8 L2091.4,993.9 L2093.4,994.0 L2095.4,994.0 L2097.4,994.1 L2099.4,994.2 L2101.4,994.3 L2103.4,994.4 L2105.4,994.5 L2107.4,994.6 L2109.4,994.7 L2111.4,994.7 L2113.4,994.8 L2115.4,994.9 L2117.4,995.0 L2119.4,995.1 L2121.4,995.1 L2123.4,995.2 L2125.3,995.3 L2127.3,995.4 L2129.3,995.4 L2131.3,995.5 L2133.3,995.6 L2135.3,995.7 L2137.3,995.7 L2139.3,995.8 L2141.3,995.9 L2143.3,995.9 L2145.3,996.0 L2147.3,996.0 L2149.3,996.1 L2151.3,996.2 L2153.3,996.2 L2155.3,996.3 L2157.3,996.3 L2159.3,996.4 L2161.3,996.4 L2163.3,996.5 L2165.3,996.5 L2167.3,996.6 L2169.3,996.6 L2171.3,996.7 L2173.3,996.7 L2175.3,996.8 L2177.3,996.8 L2179.3,996.9 L2181.3,996.9 L2183.3,996.9 L2185.3,997.0 L2187.3,997.0" fill="none" stroke="#0070b8" stroke-width="5.5" stroke-linejoin="round" stroke-linecap="butt"/>
<polygon points="489,190 493.3,184.2 499,184.2 500.5,196 502,218 508.8,218.5 509.5,232 512,241 506,241 502.6,239 499.5,234.8 496.4,229.6 493.3,224.5 489,222" fill="#0070b8"/>
<path d="M490.6,268.9 L497.4,287.1 M497.0,304.9 L506.5,328.1 M506.8,344.3 L510.0,368.7 M511.8,385.3 L515.2,411.2 M517.9,426.3 L519.5,453.2 M522.0,468.8 L522.8,495.2 M525.4,510.3 L526.7,536.2 M527.9,553.3 L529.6,578.9 M531.4,595.3 L533.1,618.7 M534.4,637.5 L536.6,660.9 M539.4,678.4 L542.1,702.9 M544.3,719.3 L548.2,742.7 M551.1,762.5 L558.9,783.5 M570.6,801.0 C572.0,802.4 576.2,807.7 579.0,809.5 C581.8,811.3 585.8,811.6 587.2,812.0 M597.6,794.5 L611.1,775.9 M623.8,773.2 L641.3,760.7 M644.5,742.7 L649.2,719.3 M651.1,702.9 L654.9,678.4 M656.8,660.9 L660.2,637.5 M660.8,618.7 L664.2,595.3 M665.8,576.7 L670.2,552.2 M671.7,535.7 L677.3,513.5 M680.5,496.6 L690.5,473.2 M700.2,458.6 L710.3,470.4 M715.5,472.3 L726.3,494.8 M728.2,513.5 L733.8,535.7 M736.8,552.2 L740.7,576.7 M743.9,595.3 L746.6,618.7 M749.4,635.3 L752.1,659.8 M754.9,676.2 L757.6,700.7 M760.3,719.3 L763.7,742.7 M765.3,761.3 L769.2,784.7 M769.8,801.1 L773.7,826.7 M776.8,844.1 L780.7,867.5 M783.7,884.5 L789.3,909.0 M791.6,925.9 L798.9,948.7 M803.5,965.6 L813.5,988.4 M825.3,999.4 L845.0,1010.6" fill="none" stroke="#000" stroke-width="5.4" stroke-linecap="butt"/>
<path d="M863.0,1013.6 L881.0,1013.6 M895.5,1013.6 L916.0,1013.6 M935.0,1013.6 L953.0,1013.6 M966.0,1013.6 L987.0,1013.6 M1003.0,1013.6 L1024.0,1013.6 M1040.0,1013.6 L1063.0,1013.6 M1090.0,1013.6 L1113.0,1013.6 M1140.0,1013.6 L1163.0,1013.6 M1190.0,1013.6 L1213.0,1013.6 M1240.0,1013.6 L1263.0,1013.6 M1290.0,1013.6 L1313.0,1013.6 M1340.0,1013.6 L1363.0,1013.6 M1390.0,1013.6 L1413.0,1013.6 M1440.0,1013.6 L1463.0,1013.6 M1490.0,1013.6 L1513.0,1013.6 M1540.0,1013.6 L1563.0,1013.6 M1590.0,1013.6 L1613.0,1013.6 M1640.0,1013.6 L1663.0,1013.6 M1690.0,1013.6 L1713.0,1013.6 M1740.0,1013.6 L1763.0,1013.6 M1790.0,1013.6 L1813.0,1013.6 M1840.0,1013.6 L1863.0,1013.6 M1890.0,1013.6 L1913.0,1013.6 M1940.0,1013.6 L1963.0,1013.6 M1990.0,1013.6 L2013.0,1013.6 M2040.0,1013.6 L2063.0,1013.6 M2090.0,1013.6 L2113.0,1013.6 M2140.0,1013.6 L2163.0,1013.6" stroke="#000" stroke-width="3.3" fill="none"/>
<text transform="translate(421.8,136.40) scale(0.795,0.69)" font-family="'Liberation Serif', 'Times New Roman', serif" font-size="100" font-weight="normal" text-anchor="end" fill="#000" stroke="#fff" stroke-width="1.3">3</text>
<text transform="translate(421.8,285.10) scale(0.795,0.69)" font-family="'Liberation Serif', 'Times New Roman', serif" font-size="100" font-weight="normal" text-anchor="end" fill="#000" stroke="#fff" stroke-width="1.3">2.5</text>
<text transform="translate(421.8,435.80) scale(0.795,0.69)" font-family="'Liberation Serif', 'Times New Roman', serif" font-size="100" font-weight="normal" text-anchor="end" fill="#000" stroke="#fff" stroke-width="1.3">2</text>
<text transform="translate(421.8,586.50) scale(0.795,0.69)" font-family="'Liberation Serif', 'Times New Roman', serif" font-size="100" font-weight="normal" text-anchor="end" fill="#000" stroke="#fff" stroke-width="1.3">1.5</text>
<text transform="translate(421.8,737.20) scale(0.795,0.69)" font-family="'Liberation Serif', 'Times New Roman', serif" font-size="100" font-weight="normal" text-anchor="end" fill="#000" stroke="#fff" stroke-width="1.3">1</text>
<text transform="translate(421.8,887.90) scale(0.795,0.69)" font-family="'Liberation Serif', 'Times New Roman', serif" font-size="100" font-weight="normal" text-anchor="end" fill="#000" stroke="#fff" stroke-width="1.3">0.5</text>
<text transform="translate(421.8,1038.60) scale(0.795,0.69)" font-family="'Liberation Serif', 'Times New Roman', serif" font-size="100" font-weight="normal" text-anchor="end" fill="#000" stroke="#fff" stroke-width="1.3">0</text>
<text transform="translate(489.6,1117.2) scale(0.795,0.69)" font-family="'Liberation Serif', 'Times New Roman', serif" font-size="100" font-weight="normal" text-anchor="middle" fill="#000" stroke="#fff" stroke-width="1.3">200</text>
<text transform="translate(1053.8,1117.2) scale(0.795,0.69)" font-family="'Liberation Serif', 'Times New Roman', serif" font-size="100" font-weight="normal" text-anchor="middle" fill="#000" stroke="#fff" stroke-width="1.3">400</text>
<text transform="translate(1619.1,1117.2) scale(0.795,0.69)" font-family="'Liberation Serif', 'Times New Roman', serif" font-size="100" font-weight="normal" text-anchor="middle" fill="#000" stroke="#fff" stroke-width="1.3">600</text>
<text transform="translate(2185.5,1117.2) scale(0.795,0.69)" font-family="'Liberation Serif', 'Times New Roman', serif" font-size="100" font-weight="normal" text-anchor="middle" fill="#000" stroke="#fff" stroke-width="1.3">800</text>
<text transform="translate(1727.5,239.6) scale(0.789,0.667)" font-family="'Liberation Serif', 'Times New Roman', serif" font-size="100" font-weight="normal" text-anchor="start" fill="#000">AHMP-AuNPs</text>
<text transform="translate(1727.5,398.1) scale(0.789,0.667)" font-family="'Liberation Serif', 'Times New Roman', serif" font-size="100" font-weight="normal" text-anchor="start" fill="#000">AuNPs</text>
<text transform="translate(1727.5,556.6) scale(0.789,0.667)" font-family="'Liberation Serif', 'Times New Roman', serif" font-size="100" font-weight="normal" text-anchor="start" fill="#000">AHMP</text>
<text transform="translate(1079.8,1258) scale(0.8907,0.76)" font-family="'Liberation Serif', 'Times New Roman', serif" font-size="100" font-weight="bold" text-anchor="start" fill="#000">Wavelenght (nm)</text>
<text transform="translate(191.1,847.25) rotate(-90) scale(0.750,0.913)" font-family="'Liberation Serif', 'Times New Roman', serif" font-size="100" font-weight="bold" text-anchor="start" fill="#000">Absorbance (AU)</text>
<rect x="1586" y="215.5" width="130" height="6" fill="#0070b8"/>
<rect x="1586" y="374.0" width="130" height="6" fill="#a81c1c"/>
<rect x="1585.7" y="532.2" width="27.6" height="5.6" fill="#000"/>
<rect x="1635.4" y="532.2" width="27.6" height="5.6" fill="#000"/>
<rect x="1685.2" y="532.2" width="27.6" height="5.6" fill="#000"/>
</svg>
</body></html>
